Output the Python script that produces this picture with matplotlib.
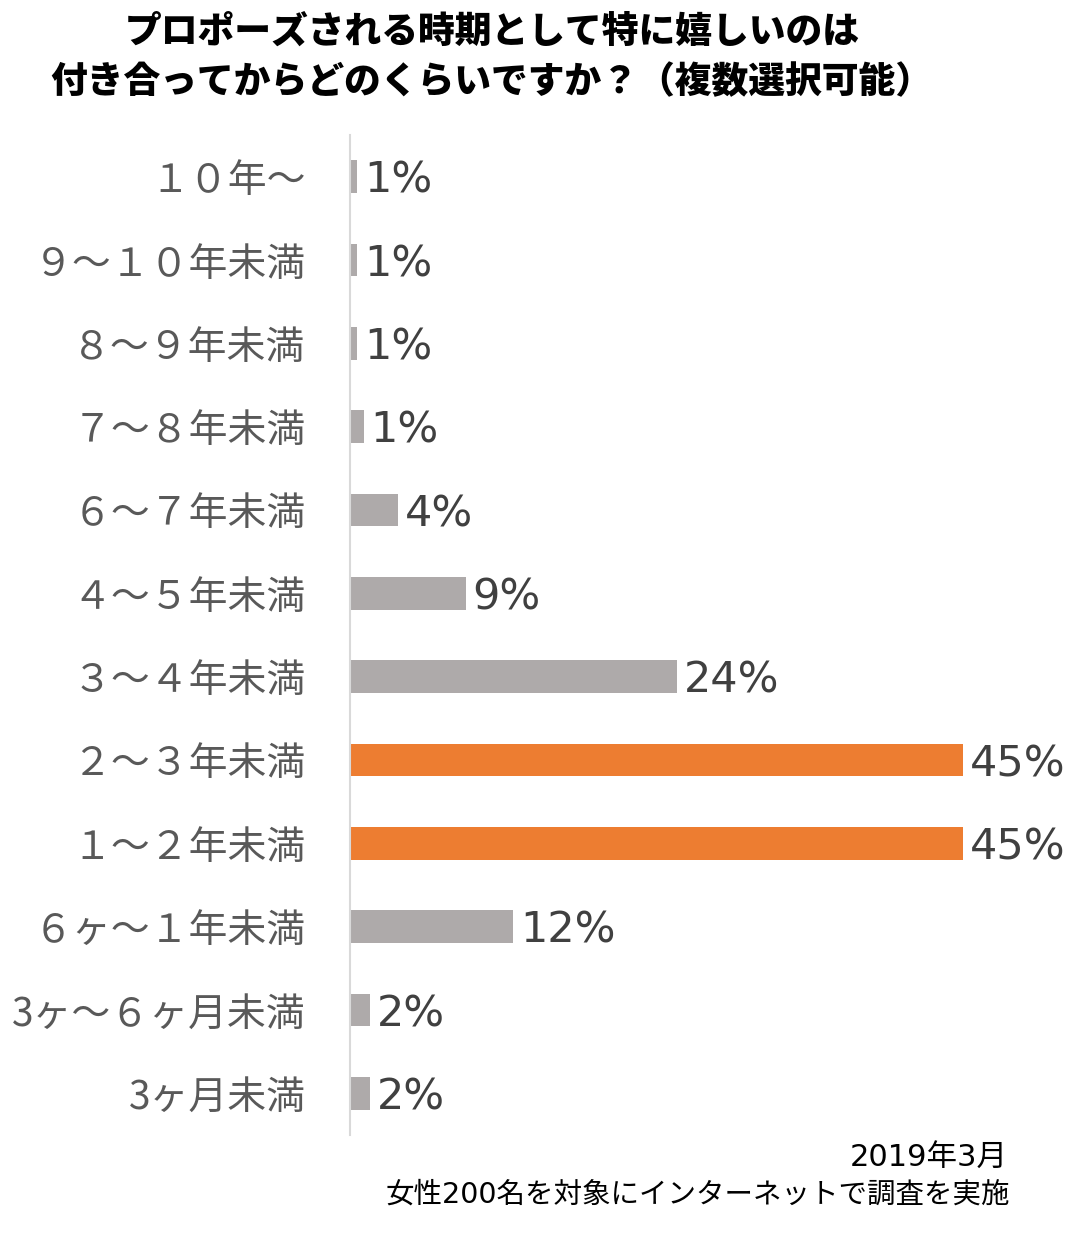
import matplotlib
matplotlib.use("Agg")
import matplotlib.pyplot as plt

plt.rcParams['font.family'] = ['Noto Sans CJK JP', 'DejaVu Sans']

categories = ["１０年～", "９～１０年未満", "８～９年未満", "７～８年未満", "６～７年未満",
              "４～５年未満", "３～４年未満", "２～３年未満", "１～２年未満",
              "６ヶ～１年未満", "3ヶ～６ヶ月未満", "3ヶ月未満"]
values = [0.5, 0.5, 0.5, 1.0, 3.5, 8.5, 24.0, 45.0, 45.0, 12.0, 1.5, 1.5]
value_labels = ["1%", "1%", "1%", "1%", "4%", "9%", "24%", "45%", "45%", "12%", "2%", "2%"]
highlight = [False, False, False, False, False, False, False, True, True, False, False, False]

title_lines = ["プロポーズされる時期として特に嬉しいのは",
               "付き合ってからどのくらいですか？（複数選択可能）"]
note_lines = ["2019年3月", "女性200名を対象にインターネットで調査を実施"]

GRAY = "#AEAAAA"
ORANGE = "#ED7D31"

fig = plt.figure(figsize=(10.88, 12.37), dpi=100)
ax = fig.add_axes([350/1088, 102/1237, 681/1088, 1000/1237])

ypos = list(range(len(categories)))
colors = [ORANGE if h else GRAY for h in highlight]
bars = ax.barh(ypos, values, height=0.39, color=colors)

for b, lab in zip(bars, value_labels):
    ax.annotate(lab, xy=(b.get_width(), b.get_y() + b.get_height()/2),
                xytext=(5, -3), textcoords='offset points',
                va='center', ha='left', fontsize=31, color='#404040',
                family=['DejaVu Sans'])

ax.set_xlim(0, 50)
ax.set_ylim(len(categories) - 0.5, -0.5)
ax.set_yticks(ypos)
ax.set_yticklabels(categories, fontsize=28, color='#595959')
ax.tick_params(axis='y', length=0, pad=32)
ax.set_xticks([])
for s in ['top', 'right', 'bottom']:
    ax.spines[s].set_visible(False)
ax.spines['left'].set_color('#D9D9D9')
ax.spines['left'].set_linewidth(1.5)

fig.text(0.452, 1 - 32/1237, title_lines[0], ha='center', va='center',
         fontsize=26.5, fontweight='heavy', color='black')
fig.text(0.452, 1 - 82/1237, title_lines[1], ha='center', va='center',
         fontsize=26.5, fontweight='heavy', color='black')

fig.text(1008/1088, 1 - 1157/1237, note_lines[0], ha='right', va='center',
         fontsize=22, color='black', family=['DejaVu Sans', 'Noto Sans CJK JP'])
fig.text(1010/1088, 1 - 1195/1237, note_lines[1], ha='right', va='center',
         fontsize=20.5, color='black', family=['DejaVu Sans', 'Noto Sans CJK JP'])

fig.savefig("out.png", dpi=100)
